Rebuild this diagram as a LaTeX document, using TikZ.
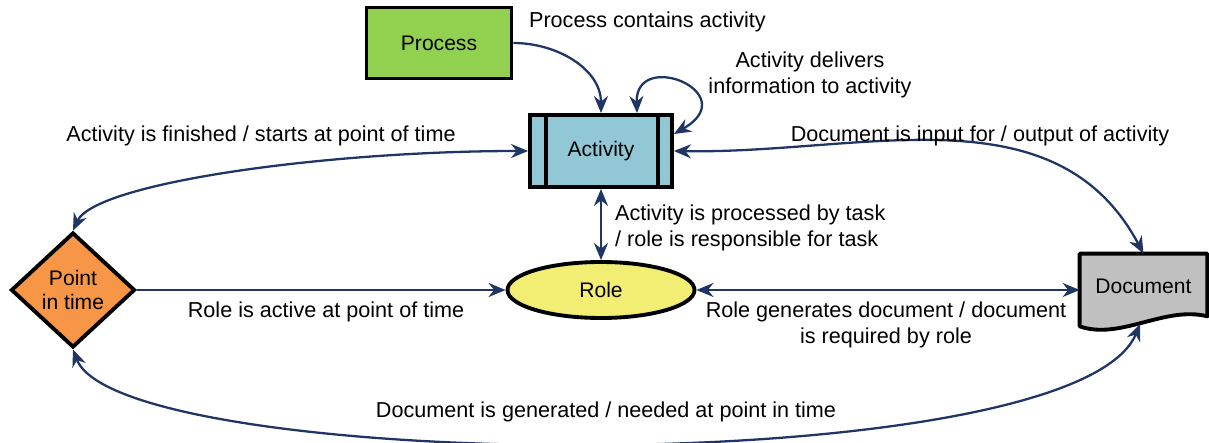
\documentclass[tikz,border=0pt]{standalone}
\usepackage{fontspec}
\setmainfont{Liberation Sans}
\usepackage{xcolor}
\usepackage{tikz}
\usetikzlibrary{shapes.geometric,arrows.meta}
\definecolor{procGreen}{HTML}{92D050}
\definecolor{actBlue}{HTML}{92C8D6}
\definecolor{timeOrange}{HTML}{F79646}
\definecolor{roleYellow}{HTML}{F2EE74}
\definecolor{docGray}{HTML}{C0C0C0}
\definecolor{linkNavy}{HTML}{1F3566}
\tikzset{
  shapebox/.style={draw=black, line width=2.2pt, font=\fontsize{12}{14}\selectfont, inner sep=0pt},
  link/.style={draw=linkNavy, line width=1.3pt, -{Stealth[length=3.4mm,width=2.8mm]}},
  twolink/.style={link, {Stealth[length=3.4mm,width=2.8mm]}-{Stealth[length=3.4mm,width=2.8mm]}},
  lbl/.style={font=\fontsize{12.3}{14.8}\selectfont, inner sep=1pt}
}

\begin{document}
\begin{tikzpicture}
  \useasboundingbox (0,0) rectangle (24.18,8.86);
  % shapes
  \node[shapebox, fill=procGreen, minimum width=2.9cm, minimum height=1.42cm] (proc) at (8.78, 8.00) {Process};
  \node[shapebox, fill=actBlue, minimum width=2.84cm, minimum height=1.44cm] (act) at (12.02, 5.84) {Activity};
  \draw[line width=2.2pt] ([xshift=0.36cm]act.north west) -- ([xshift=0.36cm]act.south west);
  \draw[line width=2.2pt] ([xshift=-0.32cm]act.north east) -- ([xshift=-0.32cm]act.south east);
  \node[shapebox, diamond, fill=timeOrange, minimum width=2.48cm, minimum height=2.3cm, align=center] (pit) at (1.46, 3.06) {Point\\in time};
  \node[shapebox, ellipse, fill=roleYellow, minimum width=3.74cm, minimum height=1.12cm] (role) at (12.02, 3.06) {Role};
  \node[minimum width=2.54cm, minimum height=1.44cm, inner sep=0pt] (doc) at (22.87, 3.06) {};
  \draw[line width=2.2pt, fill=docGray, line join=round]
    (doc.south west) -- (doc.north west) -- (doc.north east) -- ([yshift=0.2cm]doc.south east)
    .. controls (23.3, 2.75) and (22.4, 2.05) .. (doc.south west) -- cycle;
  \node[font=\fontsize{12}{14}\selectfont] at ([yshift=0.08cm]doc.center) {Document};
  \coordinate (docb) at (22.8, 2.38);
  \coordinate (loopA) at ([xshift=0.72cm]act.north);
  \coordinate (loopB) at ([yshift=0.34cm]act.east);

  % connectors
  \draw[link] (proc.east) to[out=0, in=90] (act.north);
  \draw[twolink] (loopB) .. controls (14.9, 7.0) and (12.7, 7.9) .. (loopA);
  \draw[twolink] (pit.north) .. controls (1.9, 5.2) and (6.5, 5.84) .. (act.west);
  \draw[twolink] (act.east) to[out=-1, in=118] (doc.north);
  \draw[twolink] (act.south) -- (role.north);
  \draw[link] (pit.east) -- (role.west);
  \draw[twolink] (role.east) -- (doc.west);
  \draw[twolink] (pit.south) .. controls (2.4, -0.6) and (21.5, -0.8) .. (docb);

  % labels
  \node[lbl, anchor=west] (lcontains) at (10.54, 8.42) {Process contains activity};
  \node[lbl, align=center] (ldelivers) at (16.2, 7.36) {Activity delivers\\information to activity};
  \node[lbl] (lfinished) at (5.22, 6.15) {Activity is finished / starts at point of time};
  \node[lbl] (linput) at (19.6, 6.15) {Document is input for / output of activity};
  \node[lbl, anchor=west, align=left] (ltask) at (12.26, 4.3) {Activity is processed by task\\/ role is responsible for task};
  \node[lbl] (lactive) at (6.52, 2.62) {Role is active at point of time};
  \node[lbl, align=center] (lgenerates) at (17.72, 2.36) {Role generates document / document\\is required by role};
  \node[lbl] (lneeded) at (12.12, 0.62) {Document is generated / needed at point in time};
\end{tikzpicture}
\end{document}
